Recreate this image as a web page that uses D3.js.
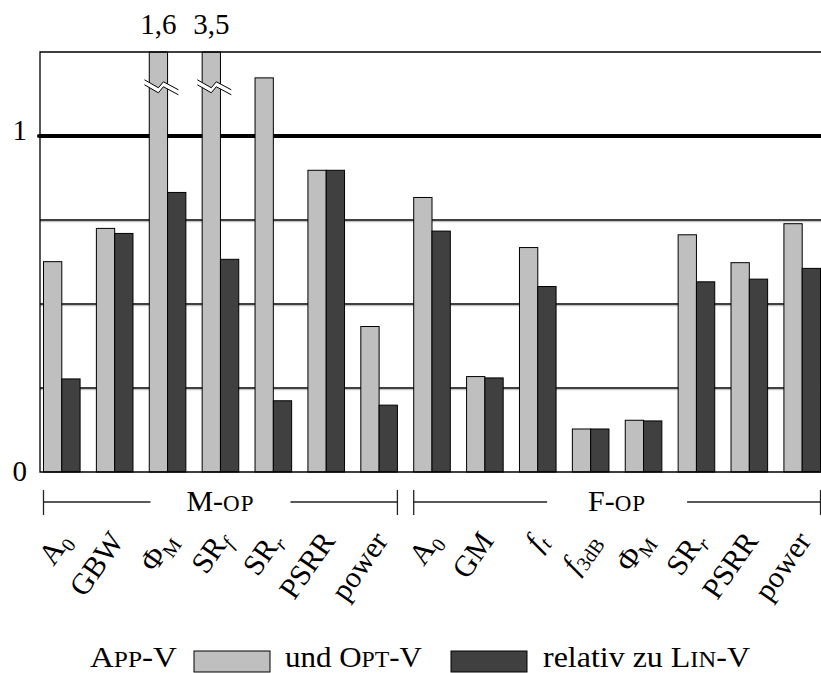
<!DOCTYPE html>
<html>
<head>
<meta charset="utf-8">
<script src="https://cdn.jsdelivr.net/npm/d3@7"></script>
<style>
  body { margin: 0; background: #fff; }
  svg { display: block; font-family: "Liberation Serif", "DejaVu Serif", serif; }
</style>
</head>
<body>
<div id="chart"></div>
<script>
// categories (label pieces: text, sub = subscript, it = italic)
const groups = ["M", "F"];
const groupOf = [0, 0, 0, 0, 0, 0, 0, 1, 1, 1, 1, 1, 1, 1, 1];
const labels = [
    [{t: "A"}, {t: "0", sub: true}],
    [{t: "GBW"}],
    [{t: "Φ"}, {t: "M", sub: true}],
    [{t: "SR"}, {t: "f", sub: true, it: true}],
    [{t: "SR"}, {t: "r", sub: true, it: true}],
    [{t: "PSRR"}],
    [{t: "power"}],
    [{t: "A"}, {t: "0", sub: true}],
    [{t: "GM"}],
    [{t: "f", it: true}, {t: "t", sub: true, it: true}],
    [{t: "f", it: true}, {t: "3dB", sub: true}],
    [{t: "Φ"}, {t: "M", sub: true}],
    [{t: "SR"}, {t: "r", sub: true, it: true}],
    [{t: "PSRR"}],
    [{t: "power"}]
];
// APP-V and OPT-V, relative to LIN-V
const appValues = [0.626, 0.725, 1.6, 3.5, 1.173, 0.898, 0.433, 0.817, 0.284, 0.668, 0.128, 0.154, 0.706, 0.623, 0.739];
const optValues = [0.277, 0.710, 0.832, 0.633, 0.212, 0.898, 0.199, 0.717, 0.280, 0.552, 0.128, 0.152, 0.566, 0.574, 0.606];
const yTicks = [0, 1];
const gridValues = [0.25, 0.5, 0.75];
const yMax = 1.25;

const width = 821, height = 673;
const plotLeft = 40, plotRight = 824, plotTop = 52, plotBottom = 472;

let svg = d3.select("#chart").append("svg")
    .attr("width", width)
    .attr("height", height);

let idx = d3.range(labels.length);

let x = d3.scaleBand()
    .domain(idx)
    .range([plotLeft, plotRight])
    .paddingInner(0.308)
    .paddingOuter(0.066);

let xSub = d3.scaleBand()
    .domain(["app", "opt"])
    .range([0, x.bandwidth()]);

let y = d3.scaleLinear()
    .domain([0, yMax])
    .range([plotBottom, plotTop]);

let comma = d3.formatLocale({decimal: ",", thousands: ".", grouping: [3], currency: ["", "€"]}).format(".1f");

// grid lines (with a faint grey shadow)
svg.selectAll(".grid-shadow")
    .data(gridValues)
    .enter().append("line")
    .attr("x1", plotLeft).attr("x2", plotRight)
    .attr("y1", d => y(d) + 1.6).attr("y2", d => y(d) + 1.6)
    .attr("stroke", "#c4c4c4")
    .attr("stroke-width", 1.2);

svg.selectAll(".grid")
    .data(gridValues)
    .enter().append("line")
    .attr("x1", plotLeft).attr("x2", plotRight)
    .attr("y1", d => y(d)).attr("y2", d => y(d))
    .attr("stroke", "#000")
    .attr("stroke-width", 1.4);

// reference line at 1
svg.append("line")
    .attr("x1", plotLeft - 1).attr("x2", plotRight)
    .attr("y1", y(1)).attr("y2", y(1))
    .attr("stroke", "#000")
    .attr("stroke-width", 4)
    .attr("stroke-linecap", "round");

// bars
let bars = [];
idx.forEach(i => {
    bars.push({i: i, key: "app", v: appValues[i]});
    bars.push({i: i, key: "opt", v: optValues[i]});
});

svg.selectAll("rect.bar")
    .data(bars)
    .enter().append("rect")
    .attr("class", "bar")
    .attr("x", d => x(d.i) + xSub(d.key))
    .attr("y", d => y(Math.min(d.v, yMax)))
    .attr("width", xSub.bandwidth())
    .attr("height", d => y(0) - y(Math.min(d.v, yMax)))
    .attr("fill", d => d.key === "app" ? "#bfbfbf" : "#404040")
    .attr("stroke", "#000")
    .attr("stroke-width", 1);

// break marks for bars out of range
let broken = bars.filter(d => d.v > yMax);
let zig = [[-16, -5], [-2, 3], [3, -3], [18, 5]];

broken.forEach(d => {
    let cx = x(d.i) + xSub(d.key) + xSub.bandwidth() / 2 + 2;
    let cy = y(1.145);
    let topPts = zig.map(p => [cx + p[0], cy + p[1] - 2.5]);
    let botPts = zig.map(p => [cx + p[0], cy + p[1] + 2.5]);
    svg.append("path")
        .attr("d", d3.line()(topPts.concat(botPts.slice().reverse())) + "Z")
        .attr("fill", "#fff")
        .attr("stroke", "none");
    [topPts, botPts].forEach(pts => {
        svg.append("path")
            .attr("d", d3.line()(pts))
            .attr("fill", "none")
            .attr("stroke", "#000")
            .attr("stroke-width", 1);
    });
    svg.append("text")
        .attr("x", x(d.i) + xSub(d.key) + xSub.bandwidth() / 2)
        .attr("y", 34)
        .attr("text-anchor", "middle")
        .attr("font-size", 29)
        .text(comma(d.v));
});

// frame
svg.append("path")
    .attr("d", `M${plotRight},${plotTop}H${plotLeft}V${plotBottom}H${plotRight}`)
    .attr("fill", "none")
    .attr("stroke", "#000")
    .attr("stroke-width", 1.3);

// y tick labels
svg.selectAll(".ytick")
    .data(yTicks)
    .enter().append("text")
    .attr("x", 27)
    .attr("y", d => y(d) + (d === 0 ? 9 : 4))
    .attr("text-anchor", "end")
    .attr("font-size", 29)
    .text(d => d);

// group brackets
let groupLabelY = 511, bracketY = 502;
groups.forEach((g, gi) => {
    let members = idx.filter(i => groupOf[i] === gi);
    let x0 = x(members[0]);
    let x1 = x(members[members.length - 1]) + x.bandwidth();
    let cx = (x0 + x1) / 2;
    let halfGap = 70;
    let grp = svg.append("g");
    grp.append("line").attr("x1", x0).attr("x2", cx - halfGap)
        .attr("y1", bracketY).attr("y2", bracketY);
    grp.append("line").attr("x1", cx + halfGap).attr("x2", x1)
        .attr("y1", bracketY).attr("y2", bracketY);
    [x0, x1].forEach(xx => {
        grp.append("line").attr("x1", xx).attr("x2", xx)
            .attr("y1", bracketY - 12).attr("y2", bracketY + 13);
    });
    grp.selectAll("line").attr("stroke", "#222").attr("stroke-width", 1.3);
    let t = grp.append("text")
        .attr("x", cx)
        .attr("y", groupLabelY)
        .attr("text-anchor", "middle")
        .attr("font-size", 30);
    t.append("tspan").text(g + "-");
    t.append("tspan").attr("font-size", 23).attr("letter-spacing", 1).text("OP");
});

// x labels, rotated
idx.forEach(i => {
    let ax = x(i) + x.bandwidth() / 2 + 10;
    let ay = 541;
    let g = svg.append("g")
        .attr("transform", `translate(${ax},${ay}) rotate(-55)`);
    let t = g.append("text")
        .attr("text-anchor", "end")
        .attr("font-size", 30);
    let shifted = false;
    labels[i].forEach(p => {
        let s = t.append("tspan").text(p.t);
        if (p.it) s.attr("font-style", "italic");
        if (p.sub) {
            s.attr("font-size", 20).attr("dy", 6);
            shifted = true;
        } else if (shifted) {
            s.attr("dy", -6);
            shifted = false;
        }
    });
});

// legend (small caps faked with smaller capitals)
let legY = 667;
let leg = svg.append("g").attr("font-size", 30);
function smallCaps(x0, len, parts) {
    let t = leg.append("text")
        .attr("x", x0).attr("y", legY)
        .attr("textLength", len)
        .attr("lengthAdjust", "spacingAndGlyphs");
    parts.forEach(p => {
        let s = t.append("tspan").text(p[0]);
        if (p[1]) s.attr("font-size", 23);
    });
}
smallCaps(90, 87, [["A"], ["PP", true], ["-V"]]);
leg.append("rect").attr("x", 194).attr("y", 651).attr("width", 76).attr("height", 21)
    .attr("fill", "#bfbfbf").attr("stroke", "#000").attr("stroke-width", 1);
smallCaps(285, 137, [["und O"], ["PT", true], ["-V"]]);
leg.append("rect").attr("x", 451).attr("y", 651).attr("width", 76).attr("height", 21)
    .attr("fill", "#404040").attr("stroke", "#000").attr("stroke-width", 1);
smallCaps(543, 207, [["relativ zu L"], ["IN", true], ["-V"]]);
</script>
</body>
</html>
